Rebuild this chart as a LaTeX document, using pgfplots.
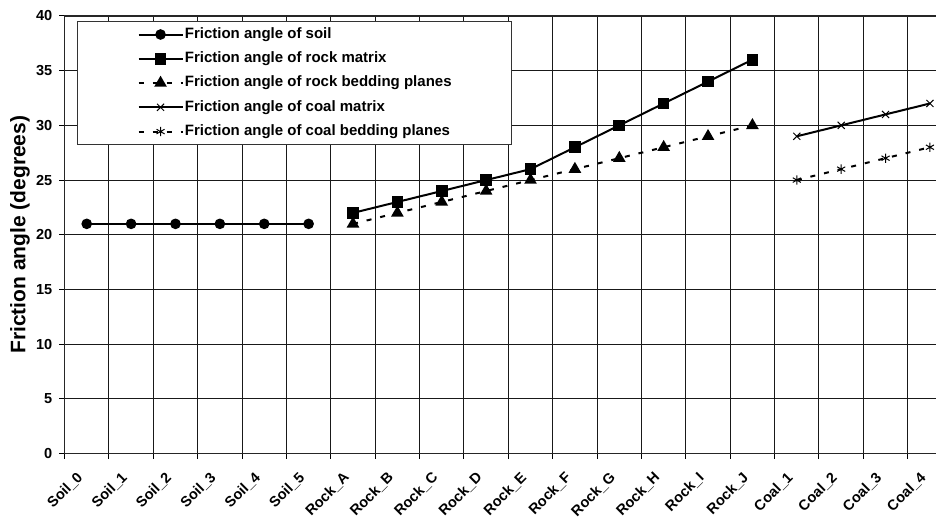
\documentclass[border=0pt]{standalone}
\usepackage{pgfplots}
\pgfplotsset{compat=1.18}
\usepackage{fontspec}
\setmainfont{Liberation Sans}
\begin{document}
\begin{tikzpicture}
\begin{axis}[
  at={(48.4pt,47.5pt)}, anchor=south west,
  scale only axis, width=665.7pt, height=328.3pt,
  xmin=-0.5, xmax=19.5, ymin=0, ymax=40,
  xtick={-0.5,0.5,1.5,2.5,3.5,4.5,5.5,6.5,7.5,8.5,9.5,10.5,11.5,12.5,13.5,14.5,15.5,16.5,17.5,18.5},
  xticklabels={Soil\_0,Soil\_1,Soil\_2,Soil\_3,Soil\_4,Soil\_5,Rock\_A,Rock\_B,Rock\_C,Rock\_D,Rock\_E,Rock\_F,Rock\_G,Rock\_H,Rock\_I,Rock\_J,Coal\_1,Coal\_2,Coal\_3,Coal\_4},
  ytick={0,5,...,40},
  grid=major,
  grid style={black!90, line width=0.75pt},
  axis line style={black!85, line width=1.2pt},
  tick align=outside, tick pos=left,
  major tick length=4pt,
  every tick/.style={black, line width=0.75pt},
  /pgf/number format/assume math mode=true,
  xticklabel style={xshift=8.6pt, yshift=-8.8pt, rotate=45, anchor=north east, inner sep=0pt, font=\bfseries\fontsize{10.9}{12}\selectfont},
  yticklabel style={anchor=east, inner sep=0pt, xshift=-5pt, font=\bfseries\fontsize{10.9}{12}\selectfont},
  every axis y label/.style={at={(axis description cs:-0.0501,0.5)}, rotate=90, anchor=center, font=\bfseries\fontsize{15.75}{18}\selectfont},
  ylabel={Friction angle (degrees)},
  legend style={at={(axis description cs:0.0141,0.989)}, anchor=north west,
    draw=black!80, line width=0.75pt, fill=white,
    inner xsep=45pt, inner ysep=4.65pt, row sep=7.6pt, column sep=1pt,
    nodes={inner sep=0pt, text height=8.2pt, text depth=2.4pt},
    font=\bfseries\fontsize{11.25}{13.5}\selectfont},
  legend cell align=left,
  legend image code/.code={\draw[mark repeat=2,mark phase=2,#1] plot coordinates {(0pt,0pt) (16.5pt,0pt) (33pt,0pt)};},
]
\addplot[black, line width=1.5pt, mark=*, mark size=3.2pt] coordinates {
(0,21) (1,21) (2,21) (3,21) (4,21) (5,21)};
\addlegendentry{Friction angle of soil}
\addplot[black, line width=1.5pt, mark=square*, mark size=3.6pt] coordinates {
(6,22) (7,23) (8,24) (9,25) (10,26) (11,28) (12,30) (13,32) (14,34) (15,36)};
\addlegendentry{Friction angle of rock matrix}
\addplot[black, line width=1.5pt, dash pattern=on 3.75pt off 6.75pt, mark=triangle*, mark size=4pt, mark options={solid}] coordinates {
(6,21) (7,22) (8,23) (9,24) (10,25) (11,26) (12,27) (13,28) (14,29) (15,30)};
\addlegendentry{Friction angle of rock bedding planes}
\addplot[black, line width=1.5pt, mark=x, mark size=3.75pt, mark options={line width=0.75pt}] coordinates {
(16,29) (17,30) (18,31) (19,32)};
\addlegendentry{Friction angle of coal matrix}
\addplot[black, line width=1.5pt, dash pattern=on 3.75pt off 6.75pt, mark=asterisk, mark size=3.5pt, mark options={solid, line width=0.75pt}] coordinates {
(16,25) (17,26) (18,27) (19,28)};
\addlegendentry{Friction angle of coal bedding planes}
\end{axis}
\pgfresetboundingbox
\path[use as bounding box] (0,0) rectangle (702pt,387.75pt);
\end{tikzpicture}
\end{document}
